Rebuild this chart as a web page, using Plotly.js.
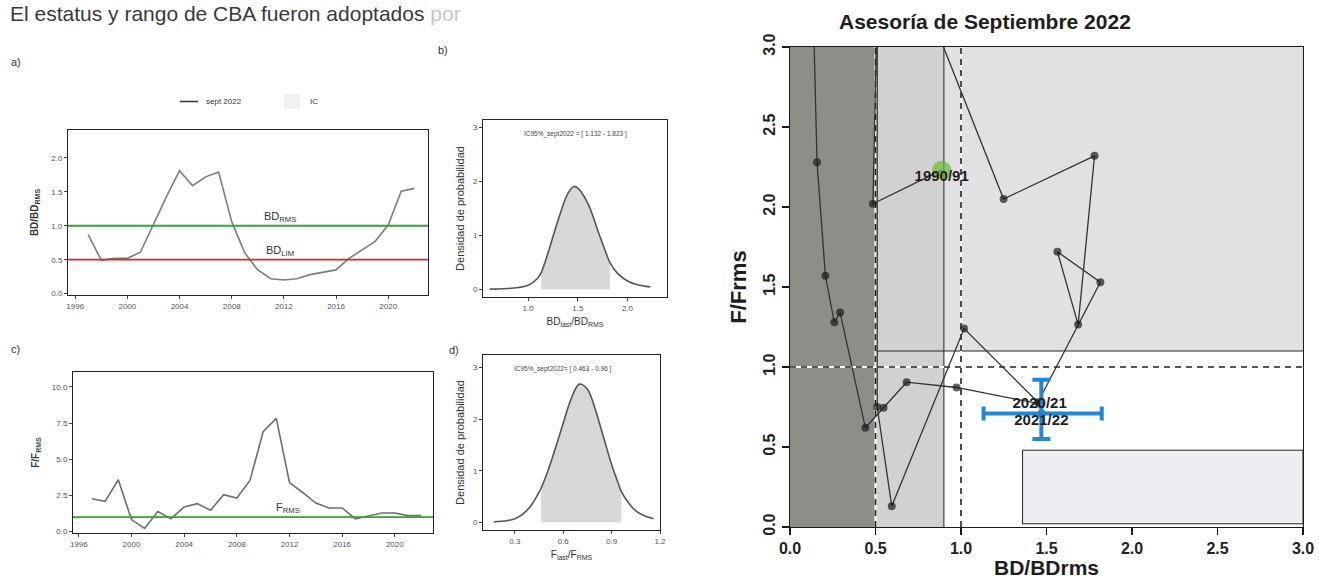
<!DOCTYPE html>
<html><head><meta charset="utf-8">
<script src="https://cdn.plot.ly/plotly-3.0.1.min.js"></script>
<style>html,body{margin:0;padding:0;background:#fff}#chart{width:1319px;height:579px}</style>
</head><body><div id="chart"></div>
<script>
// ---------- data ----------
const years = [1997,1998,1999,2000,2001,2002,2003,2004,2005,2006,2007,2008,2009,2010,2011,2012,2013,2014,2015,2016,2017,2018,2019,2020,2021,2022];
const bdRatio = [0.87,0.49,0.52,0.52,0.61,1.02,1.43,1.81,1.59,1.72,1.79,1.06,0.60,0.35,0.22,0.20,0.22,0.28,0.31,0.35,0.52,0.65,0.77,1.01,1.51,1.55];
const fRatio  = [2.27,2.09,3.58,0.83,0.21,1.38,0.89,1.70,1.93,1.47,2.55,2.32,3.53,6.90,7.82,3.39,2.70,1.97,1.63,1.63,0.87,1.05,1.28,1.28,1.10,1.10];
const bdRms = 1.0, bdLim = 0.5, fRms = 1.0;

const bdDensX = [0.61,0.70,0.80,0.90,1.00,1.10,1.132,1.20,1.30,1.40,1.46,1.50,1.60,1.70,1.80,1.823,1.90,2.00,2.10,2.23];
const bdDensY = [0.01,0.01,0.02,0.04,0.08,0.22,0.32,0.68,1.28,1.78,1.91,1.88,1.60,1.10,0.60,0.50,0.30,0.16,0.09,0.05];
const bdCI = [1.132, 1.823];

const fDensX = [0.17,0.25,0.30,0.35,0.40,0.45,0.463,0.50,0.55,0.60,0.65,0.70,0.75,0.80,0.85,0.90,0.95,0.96,1.00,1.05,1.10,1.16];
const fDensY = [0.01,0.03,0.07,0.16,0.32,0.58,0.66,0.95,1.42,1.92,2.40,2.68,2.58,2.18,1.65,1.12,0.68,0.60,0.40,0.22,0.13,0.07];
const fCI = [0.463, 0.96];

// phase diagram trajectory (BD/BDrms, F/Frms), one point per season
const kobeBD = [0.887,0.485,0.51,0.51,0.595,1.018,1.45,1.815,1.564,1.685,1.781,1.249,0.62,0.38,0.22,0.13,0.158,0.207,0.259,0.293,0.441,0.547,0.682,0.974,1.46,1.47];
const kobeF  = [2.23,2.02,3.30,0.75,0.13,1.24,0.78,1.53,1.72,1.265,2.32,2.05,3.75,6.5,7.4,3.5,2.28,1.57,1.28,1.34,0.62,0.745,0.905,0.872,0.77,0.71];
const kobeLabels = ["1990/91","","","","","","","","","","","","","","","","","","","","","","","","2020/21","2021/22"];
const kobeBDci = [1.132, 1.823];
const kobeFci  = [0.55, 0.92];
const zoneBD = [0.5, 0.9];
const zoneF = 1.1;

// ---------- helpers ----------
const W = 1319, H = 579;
const FONT = 'Liberation Sans, Arial, sans-serif';
const hd = (a, b) => [a / W, b / W];
const vd = (top, bot) => [1 - bot / H, 1 - top / H];
const px = v => v / W, py = v => 1 - v / H;

const smallAx = {
  showline: true, mirror: true, linecolor: '#222', linewidth: 1,
  ticks: 'outside', ticklen: 3, tickcolor: '#444', tickwidth: 1,
  tickfont: {size: 8, color: '#4d5663', family: FONT},
  showgrid: false, zeroline: false
};

const traces = [];
// panel a
traces.push({x: years, y: bdRatio, xaxis: 'x', yaxis: 'y', mode: 'lines',
  line: {color: '#7d7d7d', width: 1.6}, hoverinfo: 'skip'});
// panel c
traces.push({x: years, y: fRatio, xaxis: 'x3', yaxis: 'y3', mode: 'lines',
  line: {color: '#6f6f6f', width: 1.6}, hoverinfo: 'skip'});

function densTraces(dx, dy, ci, xa, ya) {
  const sx = [], sy = [];
  dx.forEach((v, i) => { if (v >= ci[0] && v <= ci[1]) { sx.push(v); sy.push(dy[i]); } });
  return [
    {x: sx, y: sy, xaxis: xa, yaxis: ya, mode: 'lines', fill: 'tozeroy',
     fillcolor: '#d8d8d8', line: {width: 0, shape: 'spline'}, hoverinfo: 'skip'},
    {x: dx, y: dy, xaxis: xa, yaxis: ya, mode: 'lines',
     line: {color: '#555', width: 1.6, shape: 'spline'}, hoverinfo: 'skip'}
  ];
}
traces.push(...densTraces(bdDensX, bdDensY, bdCI, 'x2', 'y2'));
traces.push(...densTraces(fDensX, fDensY, fCI, 'x4', 'y4'));

// phase diagram
const mColors = kobeBD.map((v, i) => i === 0 ? '#6cbd2c' : '#1c1c1c');
const mSizes = kobeBD.map((v, i) => i === 0 ? 19 : 8);
traces.push({x: kobeBD, y: kobeF, xaxis: 'x5', yaxis: 'y5', mode: 'lines+markers',
  line: {color: '#333', width: 1.3},
  marker: {color: mColors, size: mSizes, line: {width: 0}}, hoverinfo: 'skip'});
const n = kobeBD.length;
traces.push({x: [kobeBD[n - 1]], y: [kobeF[n - 1]], xaxis: 'x5', yaxis: 'y5', mode: 'markers',
  marker: {size: 2, color: '#1e8ad2'},
  error_x: {type: 'data', symmetric: false, array: [kobeBDci[1] - kobeBD[n - 1]], arrayminus: [kobeBD[n - 1] - kobeBDci[0]], color: '#1e8ad2', thickness: 4, width: 7},
  error_y: {type: 'data', symmetric: false, array: [kobeFci[1] - kobeF[n - 1]], arrayminus: [kobeF[n - 1] - kobeFci[0]], color: '#1e8ad2', thickness: 4, width: 9},
  hoverinfo: 'skip'});
// labelled seasons only
const lx = [], ly = [], lt = [], lp = [];
kobeLabels.forEach((t, i) => {
  if (t) { lx.push(kobeBD[i]); ly.push(kobeF[i]); lt.push(t); lp.push(i === n - 2 ? 'middle center' : 'bottom center'); }
});
traces.push({x: lx, y: ly, xaxis: 'x5', yaxis: 'y5', mode: 'text', text: lt,
  textposition: lp, textfont: {family: FONT, size: 15, color: '#1e1e1e', weight: 'bold'}, hoverinfo: 'skip'});

// ---------- shapes ----------
const shapes = [];
const hline = (xr, yr, y, color, width, dash, extra) => Object.assign({type: 'line', xref: xr + ' domain', yref: yr, x0: 0, x1: 1, y0: y, y1: y, line: {color, width, dash}}, extra || {});
shapes.push(hline('x', 'y', bdRms, '#2ea62e', 1.8, 'solid'));
shapes.push(hline('x', 'y', bdLim, '#e8202a', 1.8, 'solid'));
shapes.push(hline('x3', 'y3', fRms, '#2ea62e', 1.8, 'solid'));
// legend of panel a
shapes.push({type: 'line', xref: 'paper', yref: 'paper', x0: px(180), x1: px(198), y0: py(101.5), y1: py(101.5), line: {color: '#333', width: 1.5}});
shapes.push({type: 'rect', xref: 'paper', yref: 'paper', x0: px(284), x1: px(300), y0: py(109), y1: py(94), fillcolor: '#f1f1f1', line: {width: 0}});

// phase diagram zones
const K = {xref: 'x5', yref: 'y5', layer: 'below'};
shapes.push(Object.assign({type: 'rect', x0: 0, x1: zoneBD[0], y0: 0, y1: 3, fillcolor: '#8e8e89', line: {width: 0}}, K));
shapes.push(Object.assign({type: 'rect', x0: zoneBD[0], x1: zoneBD[1], y0: 0, y1: 3, fillcolor: '#d1d1d1', line: {width: 0}}, K));
shapes.push(Object.assign({type: 'rect', x0: zoneBD[1], x1: 3, y0: zoneF, y1: 3, fillcolor: '#e1e1e4', line: {width: 0}}, K));
shapes.push(Object.assign({type: 'rect', x0: 1.36, x1: 3, y0: 0.02, y1: 0.48, fillcolor: '#eeeef2', line: {color: '#222', width: 1}}, K));
shapes.push(Object.assign({type: 'line', x0: zoneBD[1], x1: zoneBD[1], y0: 0, y1: 3, line: {color: '#222', width: 1}}, K));
shapes.push(Object.assign({type: 'line', x0: zoneBD[0], x1: 3, y0: zoneF, y1: zoneF, line: {color: '#222', width: 1}}, K));
function refLine(x0, x1, y0, y1) {
  shapes.push(Object.assign({type: 'line', x0, x1, y0, y1, line: {color: '#ffffff', width: 2}}, K));
  shapes.push(Object.assign({type: 'line', x0, x1, y0, y1, line: {color: '#222', width: 1.6, dash: '6px,5px'}}, K));
}
refLine(bdLim, bdLim, 0, 3);
refLine(bdRms, bdRms, 0, 3);
refLine(0, 3, fRms, fRms);

// ---------- annotations ----------
const ann = [];
const txt = (x, y, text, size, extra) => Object.assign({xref: 'paper', yref: 'paper', x, y, text, showarrow: false,
  font: {family: FONT, size, color: '#333'}, xanchor: 'left', yanchor: 'middle'}, extra || {});
ann.push(txt(px(8), 1, 'El estatus y rango de CBA fueron adoptados <span style="color:#c8c8c8">por</span>', 21,
  {yanchor: 'top', font: {family: FONT, size: 21, color: '#3a3a3a'}}));
ann.push(txt(px(9), py(62), 'a)', 11));
ann.push(txt(px(436), py(50), 'b)', 11));
ann.push(txt(px(9), py(349), 'c)', 11));
ann.push(txt(px(447), py(350), 'd)', 11));
ann.push(txt(px(204), py(101.5), 'sept 2022', 8));
ann.push(txt(px(308), py(101.5), 'IC', 8));
ann.push({xref: 'x', yref: 'y', x: 2011.7, y: bdRms, text: 'BD<sub>RMS</sub>', showarrow: false, yanchor: 'bottom', font: {family: FONT, size: 11, color: '#333'}});
ann.push({xref: 'x', yref: 'y', x: 2011.7, y: bdLim, text: 'BD<sub>LIM</sub>', showarrow: false, yanchor: 'bottom', font: {family: FONT, size: 11, color: '#333'}});
ann.push({xref: 'x3', yref: 'y3', x: 2011.9, y: fRms, text: 'F<sub>RMS</sub>', showarrow: false, yanchor: 'bottom', font: {family: FONT, size: 11, color: '#333'}});
ann.push({xref: 'x2 domain', yref: 'y2 domain', x: 0.5, y: 0.955, text: 'IC95%_sept2022 = [ ' + bdCI[0] + ' - ' + bdCI[1] + ' ]', showarrow: false, font: {family: FONT, size: 6.5, color: '#444'}});
ann.push({xref: 'x4 domain', yref: 'y4 domain', x: 0.45, y: 0.955, text: 'IC95%_sept2022= [ ' + fCI[0] + ' - ' + fCI[1] + ' ]', showarrow: false, font: {family: FONT, size: 6.5, color: '#444'}});
ann.push({xref: 'paper', yref: 'paper', x: px(985), y: py(22), text: 'Asesoría de Septiembre 2022', showarrow: false,
  xanchor: 'center', yanchor: 'middle', font: {family: FONT, size: 21, color: '#1e1e1e', weight: 'bold'}});

// ---------- layout ----------
const bigAx = {
  showline: true, mirror: true, linecolor: '#1a1a1a', linewidth: 1.2,
  ticks: 'outside', ticklen: 7, tickcolor: '#1a1a1a', tickwidth: 1.2,
  tickfont: {size: 16, color: '#222', family: FONT, weight: 'bold'},
  showgrid: false, zeroline: false, range: [0, 3], dtick: 0.5, tick0: 0, tickformat: '.1f'
};
const layout = {
  width: W, height: H, margin: {l: 0, r: 0, t: 0, b: 0},
  paper_bgcolor: '#ffffff', plot_bgcolor: 'rgba(0,0,0,0)', showlegend: false,
  font: {family: FONT},
  xaxis: Object.assign({}, smallAx, {domain: hd(68, 428), range: [1995.45, 2023.05], dtick: 4, tick0: 1996, anchor: 'y'}),
  yaxis: Object.assign({}, smallAx, {domain: vd(130, 295), range: [-0.02, 2.41], dtick: 0.5, tick0: 0, tickformat: '.1f', anchor: 'x',
    title: {text: 'BD/BD<sub>RMS</sub>', font: {size: 10, color: '#333', family: FONT, weight: 'bold'}, standoff: 10}}),
  xaxis2: Object.assign({}, smallAx, {domain: hd(483, 667), range: [0.545, 2.398], dtick: 0.5, tick0: 0, tickformat: '.1f', anchor: 'y2',
    title: {text: 'BD<sub>last</sub>/BD<sub>RMS</sub>', font: {size: 10, color: '#333', family: FONT}, standoff: 6}}),
  yaxis2: Object.assign({}, smallAx, {domain: vd(120, 297), range: [-0.137, 3.14], dtick: 1, tick0: 0, anchor: 'x2',
    title: {text: 'Densidad de probabilidad', font: {size: 11, color: '#333', family: FONT}, standoff: 6}}),
  xaxis3: Object.assign({}, smallAx, {domain: hd(73, 433), range: [1995.56, 2022.9], dtick: 4, tick0: 1996, anchor: 'y3'}),
  yaxis3: Object.assign({}, smallAx, {domain: vd(372, 533), range: [-0.1, 11.03], dtick: 2.5, tick0: 0, tickformat: '.1f', anchor: 'x3',
    title: {text: 'F/F<sub>RMS</sub>', font: {size: 10, color: '#2f3f5f', family: FONT, weight: 'bold'}, standoff: 10}}),
  xaxis4: Object.assign({}, smallAx, {domain: hd(483, 660), range: [0.103, 1.2], dtick: 0.3, tick0: 0, tickformat: '.1f', anchor: 'y4',
    title: {text: 'F<sub>last</sub>/F<sub>RMS</sub>', font: {size: 10, color: '#333', family: FONT}, standoff: 6}}),
  yaxis4: Object.assign({}, smallAx, {domain: vd(355, 530), range: [-0.15, 3.245], dtick: 1, tick0: 0, anchor: 'x4',
    title: {text: 'Densidad de probabilidad', font: {size: 11, color: '#333', family: FONT}, standoff: 6}}),
  xaxis5: Object.assign({}, bigAx, {domain: hd(790, 1303), anchor: 'y5',
    title: {text: 'BD/BDrms', font: {size: 21, color: '#1e1e1e', family: FONT, weight: 'bold'}, standoff: 4}}),
  yaxis5: Object.assign({}, bigAx, {domain: vd(47, 527), anchor: 'x5', tickangle: -90,
    title: {text: 'F/Frms', font: {size: 22, color: '#1e1e1e', family: FONT, weight: 'bold'}, standoff: 8}}),
  shapes, annotations: ann
};
Plotly.newPlot('chart', traces, layout, {staticPlot: true, displayModeBar: false});
</script>
</body></html>
